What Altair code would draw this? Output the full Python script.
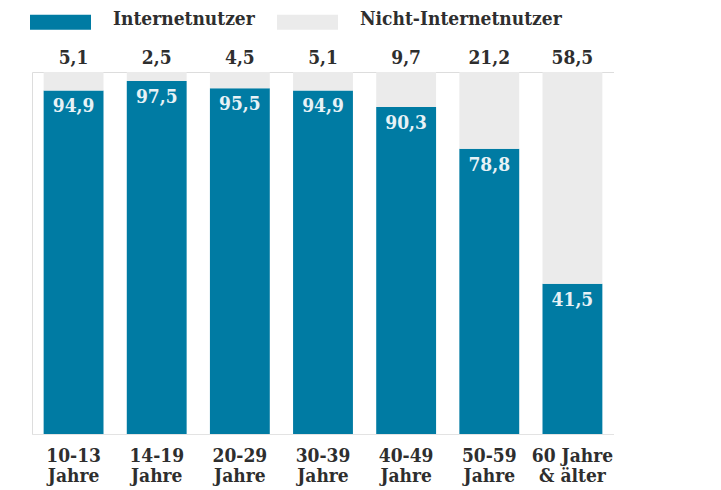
import altair as alt
import pandas as pd

categories = ["10-13\nJahre", "14-19\nJahre", "20-29\nJahre", "30-39\nJahre",
              "40-49\nJahre", "50-59\nJahre", "60 Jahre\n& älter"]
nutzer = [94.9, 97.5, 95.5, 94.9, 90.3, 78.8, 41.5]
nicht = [5.1, 2.5, 4.5, 5.1, 9.7, 21.2, 58.5]
series = ["Internetnutzer", "Nicht-Internetnutzer"]
colors = ["#007ba3", "#ebebeb"]

rows = []
for c, a, b in zip(categories, nutzer, nicht):
    rows.append({"cat": c, "series": series[0], "value": a, "order": 0})
    rows.append({"cat": c, "series": series[1], "value": b, "order": 1})
df = pd.DataFrame(rows)
lab = pd.DataFrame({"cat": categories, "nutzer": nutzer, "nicht": nicht,
                    "top": [a + b for a, b in zip(nutzer, nicht)]})

FONT = "DejaVu Serif Condensed"
DARK = "#2e2e2e"

x = alt.X("cat:N", sort=categories, title=None,
          scale=alt.Scale(paddingInner=0.28, paddingOuter=0.14),
          axis=alt.Axis(labelExpr="split(datum.value, '\\n')", labelAngle=0,
                        labelFont=FONT, labelFontSize=19, labelFontWeight="bold",
                        labelColor=DARK, labelPadding=12, labelLineHeight=20,
                        ticks=False, domainColor="#e3e3e3", grid=False))

bars = alt.Chart(df).mark_bar().encode(
    x=x,
    y=alt.Y("value:Q", stack="zero", scale=alt.Scale(domain=[0, 100]), axis=None),
    color=alt.Color("series:N", scale=alt.Scale(domain=series, range=colors),
                    legend=alt.Legend(title=None, orient="none", legendX=-2, legendY=-84,
                                      direction="horizontal",
                                      symbolType="M-1,-0.13H1V0.36H-1Z",
                                      symbolSize=3721, symbolStrokeWidth=0,
                                      labelFont=FONT, labelFontSize=19,
                                      labelFontWeight="bold", labelColor=DARK,
                                      labelOffset=22, columnPadding=22,
                                      labelLimit=300)),
    order=alt.Order("order:Q"),
)

inner = alt.Chart(lab).mark_text(baseline="middle", dy=16, font=FONT, fontSize=19,
                                 fontWeight="bold", color="#e8f2f6").encode(
    x=alt.X("cat:N", sort=categories),
    y=alt.Y("nutzer:Q"),
    text=alt.Text("nutzer:Q", format=",.1f"),
)

top = alt.Chart(lab).mark_text(baseline="middle", dy=-14, font=FONT, fontSize=19,
                               fontWeight="bold", color=DARK).encode(
    x=alt.X("cat:N", sort=categories),
    y=alt.Y("top:Q"),
    text=alt.Text("nicht:Q", format=",.1f"),
)

chart = alt.layer(bars, inner, top).properties(
    width=582, height=362,
    autosize=alt.AutoSizeParams(type="none"),
    padding={"left": 24, "top": 64, "right": 0, "bottom": 56},
).configure_view(stroke=None).configure(
    locale={"number": {"decimal": ",", "thousands": ".", "grouping": [3],
                       "currency": ["", " €"]}}
)

chart.save("out.html", embed_options={"renderer": "svg", "actions": False})
